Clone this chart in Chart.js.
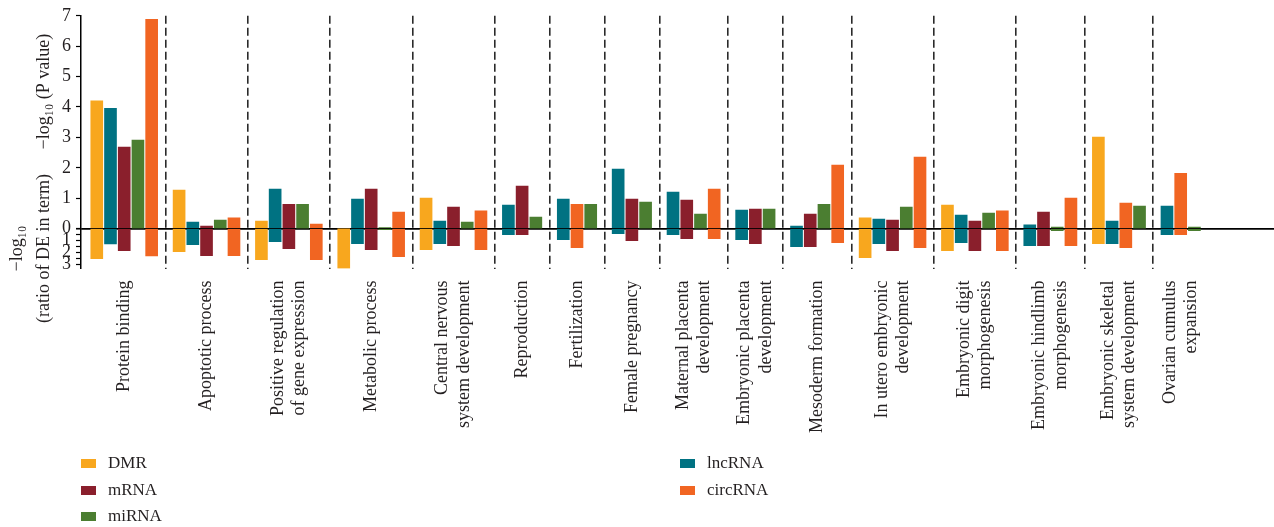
<!DOCTYPE html>
<html>
<head>
<meta charset="utf-8">
<script src="https://cdn.jsdelivr.net/npm/chart.js@4.4.1/dist/chart.umd.min.js"></script>
<style>
  html, body { margin: 0; padding: 0; background: #ffffff; }
  #wrap { position: relative; width: 1274px; height: 527px; }
  #legend { position: absolute; left: 0; top: 0; width: 1274px; height: 527px; pointer-events: none;
            font-family: "Liberation Serif", "DejaVu Serif", serif; font-size: 17px; color: #231f20; }
  .item { position: absolute; display: flex; align-items: center; height: 20px; white-space: nowrap; }
  .swatch { width: 15px; height: 9px; margin-right: 12px; }
</style>
</head>
<body>
<div id="wrap">
  <canvas id="chart" width="1274" height="527"></canvas>
  <div id="legend"></div>
</div>
<script>
// GO terms shown along the x axis (multi-line where the term wraps)
const categories = [
  'Protein binding',
  'Apoptotic process',
  ['Positive regulation', 'of gene expression'],
  'Metabolic process',
  ['Central nervous', 'system development'],
  'Reproduction',
  'Fertilization',
  'Female pregnancy',
  ['Maternal placenta', 'development'],
  ['Embryonic placenta', 'development'],
  'Mesoderm formation',
  ['In utero embryonic', 'development'],
  ['Embryonic digit', 'morphogenesis'],
  ['Embryonic hindlimb', 'morphogenesis'],
  ['Embryonic skeletal', 'system development'],
  ['Ovarian cumulus', 'expansion']
];

// -log10(P value) per term (null = term not enriched for that molecule type)
const dmrP     = [4.20, 1.27, 0.25, 0.00, 1.00, null, null, null, null, null, null, 0.35, 0.77, null, 3.01, null];
const lncrnaP  = [3.96, 0.21, 1.30, 0.97, 0.25, 0.77, 0.97, 1.96, 1.20, 0.61, 0.08, 0.31, 0.44, 0.12, 0.25, 0.74];
const mrnaP    = [2.68, 0.08, 0.80, 1.30, 0.71, 1.40, null, 0.97, 0.94, 0.64, 0.48, 0.28, 0.25, 0.54, null, null];
const mirnaP   = [2.91, 0.28, 0.80, 0.03, 0.21, 0.38, 0.80, 0.87, 0.48, 0.64, 0.80, 0.71, 0.51, 0.05, 0.74, 0.05];
const circrnaP = [6.88, 0.35, 0.15, 0.54, 0.58, null, 0.80, null, 1.30, null, 2.09, 2.35, 0.58, 1.00, 0.84, 1.82];

// -log10(ratio of DE in term), drawn downward below the zero line
const dmrRatio     = [2.52, 1.93, 2.60, 3.35, 1.77, null, null, null, null, null, null, 2.44, 1.85, null, 1.27, null];
const lncrnaRatio  = [1.29, 1.35, 1.10, 1.27, 1.27, 0.52, 0.94, 0.43, 0.52, 0.94, 1.52, 1.27, 1.19, 1.44, 1.27, 0.52];
const mrnaRatio    = [1.85, 2.27, 1.68, 1.77, 1.44, 0.52, null, 1.02, 0.85, 1.27, 1.52, 1.85, 1.85, 1.44, null, null];
const mirnaRatio   = [0, 0, 0, 0.10, 0, 0, 0, 0, 0, 0, 0, 0, 0, 0.18, 0, 0.18];
const circrnaRatio = [2.30, 2.27, 2.60, 2.36, 1.77, null, 1.60, null, 0.85, null, 1.19, 1.60, 1.85, 1.44, 1.60, 0.52];

// Axis ticks
const pTicks = [0, 1, 2, 3, 4, 5, 6, 7];
const ratioTicks = [0, 0.5, 1, 1.5, 2, 2.5, 3];
const ratioLabels = [1, 2, 3];

const seriesNames  = ['DMR', 'lncRNA', 'mRNA', 'miRNA', 'circRNA'];
const seriesColors = ['#F8A71E', '#007282', '#8A1F2C', '#4B7E31', '#F16522'];
const seriesP      = [dmrP, lncrnaP, mrnaP, mirnaP, circrnaP];
const seriesRatio  = [dmrRatio, lncrnaRatio, mrnaRatio, mirnaRatio, circrnaRatio];

// Each term gets one slot per enriched molecule type plus one spacer slot.
// When mRNA is absent, circRNA moves up next to lncRNA.
const slotX = seriesNames.map(() => categories.map(() => null));
const groupCenters = [];
const groupEdges = [];
let cursor = 0;
categories.forEach((_, g) => {
  const order = mrnaP[g] === null ? [0, 1, 4, 3, 2] : [0, 1, 2, 3, 4];
  const present = order.filter(s => seriesP[s][g] !== null);
  present.forEach((s, k) => { slotX[s][g] = cursor + 1 + k; });
  groupCenters.push(cursor + (present.length + 1) / 2);
  cursor += present.length + 1;
  if (g < categories.length - 1) groupEdges.push(cursor);
});
const xMin = -0.15;
const xMax = 86.8;

const serif = '"Liberation Serif", "DejaVu Serif", serif';
const ink = '#231f20';
const labelSize = 18;
const labelLineHeight = 1.2;

const datasets = [];
seriesNames.forEach((name, s) => {
  const common = { backgroundColor: seriesColors[s], borderWidth: 0, barThickness: 12, grouped: false, xAxisID: 'x' };
  datasets.push(Object.assign({
    label: name, yAxisID: 'y',
    data: seriesP[s].map((v, g) => v === null ? null : { x: slotX[s][g], y: v }).filter(Boolean)
  }, common));
  datasets.push(Object.assign({
    label: name + ' ratio', yAxisID: 'yb',
    data: seriesRatio[s].map((v, g) => v === null ? null : { x: slotX[s][g], y: -v }).filter(Boolean)
  }, common));
});

// Rotated multi-line labels stack sideways from the tick; pull the tick back
// by half the block so every term label stays centred on its bar group.
function termTicks(sc) {
  const pxPerUnit = sc.width > 0 ? sc.width / (xMax - xMin) : 13.72;
  const linePx = labelSize * labelLineHeight;
  sc.ticks = groupCenters.map((c, g) => {
    const lines = Array.isArray(categories[g]) ? categories[g].length : 1;
    return { value: c - (lines - 1) * linePx / 2 / pxPerUnit };
  });
}

const chart = new Chart(document.getElementById('chart'), {
  type: 'bar',
  data: { datasets },
  options: {
    responsive: false,
    animation: false,
    devicePixelRatio: 1,
    layout: { padding: { top: 5, right: 0, bottom: 68.5, left: 0 } },
    plugins: { legend: { display: false }, tooltip: { enabled: false } },
    scales: {
      x: {
        type: 'linear', position: 'bottom', min: xMin, max: xMax, offset: false,
        grid: { display: false, offset: false }, border: { display: false },
        afterBuildTicks: termTicks,
        afterFit: sc => { sc.height = 190; },
        ticks: {
          autoSkip: false, minRotation: 90, maxRotation: 90, padding: 4, color: ink,
          font: { family: serif, size: labelSize, lineHeight: labelLineHeight },
          callback: (v, i) => categories[i]
        }
      },
      xs: {
        type: 'linear', position: 'bottom', min: xMin, max: xMax, offset: false,
        grid: { color: '#2a2a2a', lineWidth: 1.6, drawTicks: false, drawOnChartArea: true, offset: false },
        border: { display: false, dash: [8, 4] },
        ticks: { display: false },
        afterBuildTicks: sc => { sc.ticks = groupEdges.map(v => ({ value: v })); },
        afterFit: sc => { sc.height = 0; }
      },
      y: {
        type: 'linear', position: 'left', stack: 'v', stackWeight: 213.2, weight: 2,
        min: 0, max: 7,
        afterBuildTicks: sc => { sc.ticks = pTicks.map(v => ({ value: v })); },
        afterFit: sc => { sc.width = 81; },
        grid: {
          color: c => (c.tick && c.tick.value === 0) ? '#000' : 'rgba(0,0,0,0)',
          lineWidth: c => (c.tick && c.tick.value === 0) ? 1.8 : 1,
          tickColor: '#000', tickLength: 5, tickWidth: 1.2
        },
        border: { color: '#000', width: 1.5 },
        ticks: { padding: 5, color: ink, font: { family: serif, size: 18 } },
        title: {
          display: true, text: '\u2212log\u2081\u2080 (P value)    ', align: 'end', color: ink,
          padding: { top: 31, bottom: 0 }, font: { family: serif, size: 18, lineHeight: 1.5 }
        }
      },
      yb: {
        type: 'linear', position: 'left', stack: 'v', stackWeight: 40, weight: 1,
        min: -3.35, max: 0,
        afterBuildTicks: sc => { sc.ticks = ratioTicks.map(v => ({ value: -v })); },
        afterFit: sc => { sc.width = 81; },
        grid: { drawOnChartArea: false, tickColor: '#000', tickLength: 5, tickWidth: 1.2 },
        border: { color: '#000', width: 1.5 },
        ticks: {
          padding: 5, color: ink, font: { family: serif, size: 18 }, autoSkip: false,
          callback: v => ratioLabels.includes(-v) ? String(-v) : ''
        },
        title: {
          display: true, text: ['\u2212log\u2081\u2080', '(ratio of DE in term)'], color: ink,
          padding: { top: 4, bottom: 0 }, font: { family: serif, size: 18, lineHeight: 1.5 }
        }
      }
    }
  }
});

// Legend laid out in two columns beneath the axis labels
const legendOrder = ['DMR', 'lncRNA', 'mRNA', 'circRNA', 'miRNA'];
const legendCols = [81, 680];
const legendRows = [463, 490, 516];
const legendEl = document.getElementById('legend');
legendOrder.forEach((name, i) => {
  const s = seriesNames.indexOf(name);
  const item = document.createElement('div');
  item.className = 'item';
  item.style.left = legendCols[i % 2] + 'px';
  item.style.top = (legendRows[Math.floor(i / 2)] - 10) + 'px';
  const sw = document.createElement('span');
  sw.className = 'swatch';
  sw.style.background = seriesColors[s];
  const tx = document.createElement('span');
  tx.textContent = name;
  item.appendChild(sw);
  item.appendChild(tx);
  legendEl.appendChild(item);
});
</script>
</body>
</html>
